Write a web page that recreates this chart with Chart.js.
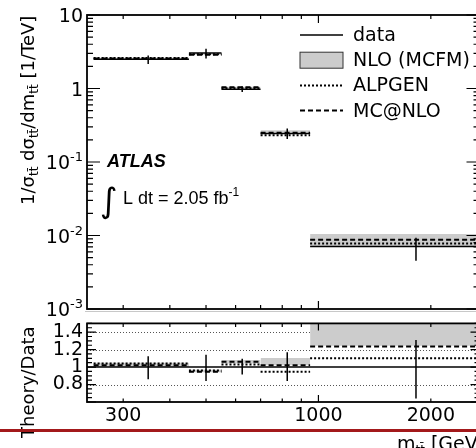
<!DOCTYPE html>
<html>
<head>
<meta charset="utf-8">
<script src="https://cdn.jsdelivr.net/npm/chart.js@4.4.0/dist/chart.umd.min.js"></script>
<style>
  html, body { margin: 0; padding: 0; background: #fff; overflow: hidden; }
  body { width: 476px; height: 448px; position: relative; }
  #mainBox { position: absolute; left: 0; top: 0; width: 490px; height: 330px; }
  #ratioBox { position: absolute; left: 0; top: 308px; width: 490px; height: 140px; }
  #redline { position: absolute; left: 0; top: 429px; width: 476px; height: 3px; background: #a3191b; }
  canvas { display: block; }
</style>
</head>
<body>
<div id="mainBox"><canvas id="mainChart"></canvas></div>
<div id="ratioBox"><canvas id="ratioChart"></canvas></div>
<div id="redline"></div>
<script>
// m_tt bins [GeV] and normalised cross section [1/TeV]
const binEdges = [250, 450, 550, 700, 950, 2700];
const binCentres = [350, 500, 625, 825, 1825];
const dataValues = [2.5, 3.05, 0.98, 0.245, 0.0071];
// data uncertainty as theory/data ratio ends
const dataErrLow = [0.86, 0.84, 0.915, 0.84, 0.64];
const dataErrHigh = [1.125, 1.14, 1.095, 1.17, 1.31];
// theory / data
const alpgenRatio = [1.04, 0.96, 1.03, 0.945, 1.10];
const mcatnloRatio = [1.02, 0.945, 1.06, 1.02, 1.235];
const nloRatioLow = [1.0, 0.94, 1.04, 1.02, 1.245];
const nloRatioHigh = [1.05, 0.97, 1.08, 1.105, 1.6];
// NLO band in the upper panel
const nloLow = [2.5, 2.87, 1.01, 0.25, 0.0071];
const nloHigh = [2.62, 2.96, 1.06, 0.27, 0.0105];

const xTickLabels = [300, 1000, 2000];
const xTickMarks = [300, 400, 500, 600, 700, 800, 900, 1000, 2000];
const xMajorMarks = [1000];
const ratioTickLabels = [0.8, 1, 1.2, 1.4];
const mainDecades = [10, 1, 0.1, 0.01, 0.001];

const alpgenDash = [2, 2];
const mcatnloDash = [5, 3];
const bandColour = '#cccccc';
const labelFont = '19px "DejaVu Sans"';

function binSteps(values) {
  const pts = [];
  values.forEach((v, i) => {
    pts.push({ x: binEdges[i], y: v }, { x: binEdges[i + 1], y: v });
    if (i < values.length - 1) pts.push({ x: binEdges[i + 1], y: null });
  });
  return pts;
}

function errorBars(lo, hi) {
  const pts = [];
  binCentres.forEach((c, i) => {
    pts.push({ x: c, y: lo[i] }, { x: c, y: hi[i] });
    if (i < binCentres.length - 1) pts.push({ x: c, y: null });
  });
  return pts;
}

function bandSets(lo, hi) {
  const sets = [];
  lo.forEach((v, i) => {
    sets.push({
      data: [{ x: binEdges[i], y: hi[i] }, { x: binEdges[i + 1], y: hi[i] }],
      fill: '+1', backgroundColor: bandColour, borderColor: 'transparent', borderWidth: 0, order: 5
    });
    sets.push({
      data: [{ x: binEdges[i], y: v }, { x: binEdges[i + 1], y: v }],
      fill: false, borderColor: 'transparent', borderWidth: 0, order: 5
    });
  });
  return sets;
}

function lineSet(data, dash, width, order) {
  return { data: data, borderColor: '#000', borderWidth: width, borderDash: dash, fill: false, order: order };
}

const times = (a, b) => a.map((v, i) => v * b[i]);

// ---- frame with inward ticks, ROOT style
function drawFrame(chart, yMarks, len) {
  const { ctx, chartArea: a, scales } = chart;
  ctx.save();
  ctx.strokeStyle = '#000';
  ctx.lineWidth = 1.2;
  ctx.beginPath();
  xTickMarks.forEach(v => {
    const px = scales.x.getPixelForValue(v);
    const l = xMajorMarks.includes(v) ? len.xMajor : len.xMinor;
    ctx.moveTo(px, a.bottom); ctx.lineTo(px, a.bottom - l);
    ctx.moveTo(px, a.top); ctx.lineTo(px, a.top + l);
  });
  yMarks.forEach(t => {
    const py = scales.y.getPixelForValue(t.v);
    const l = t.major ? len.yMajor : len.yMinor;
    ctx.moveTo(a.left, py); ctx.lineTo(a.left + l, py);
    ctx.moveTo(a.right, py); ctx.lineTo(a.right - l, py);
  });
  ctx.stroke();
  ctx.lineWidth = 1.8;
  ctx.strokeRect(a.left, a.top, a.right - a.left, a.bottom - a.top);
  ctx.restore();
}

function richText(ctx, parts, x, y, rotate) {
  ctx.save();
  ctx.translate(x, y);
  if (rotate) ctx.rotate(-Math.PI / 2);
  ctx.textAlign = 'left';
  ctx.textBaseline = 'alphabetic';
  ctx.fillStyle = '#000';
  let cx = 0;
  parts.forEach(p => {
    ctx.font = p.font;
    ctx.fillText(p.text, cx, p.dy || 0);
    cx += ctx.measureText(p.text).width;
  });
  ctx.restore();
}

const mainYMarks = [];
for (let k = -3; k <= 0; k++) {
  for (let m = 1; m <= 9; m++) mainYMarks.push({ v: m * Math.pow(10, k), major: m === 1 });
}
mainYMarks.push({ v: 10, major: true });

const ratioYMarks = [];
for (let i = 12; i <= 30; i++) ratioYMarks.push({ v: i * 0.05, major: i % 4 === 0 });

const legendItems = [
  { label: 'data', kind: 'line', dash: [] },
  { label: 'NLO (MCFM)', kind: 'box' },
  { label: 'ALPGEN', kind: 'line', dash: alpgenDash },
  { label: 'MC@NLO', kind: 'line', dash: mcatnloDash }
];

const sub = '12px "DejaVu Sans"';
const ttbar = 'tt\u0304';

const mainDecor = {
  id: 'mainDecor',
  afterDatasetsDraw(chart) {
    drawFrame(chart, mainYMarks, { xMajor: 8, xMinor: 4, yMajor: 13, yMinor: 6 });
  },
  afterDraw(chart) {
    const { ctx, chartArea: a, scales } = chart;
    ctx.save();
    ctx.fillStyle = '#000';
    // y tick labels with exponents
    mainDecades.forEach(d => {
      const py = scales.y.getPixelForValue(d);
      const right = a.left - 4;
      if (d >= 1) {
        ctx.font = labelFont;
        ctx.textAlign = 'right';
        ctx.textBaseline = 'alphabetic';
        ctx.fillText(String(d), right, py + 7);
      } else {
        const exp = String(Math.round(Math.log10(d)));
        ctx.font = '13px "DejaVu Sans"';
        const ew = ctx.measureText(exp).width;
        ctx.font = labelFont;
        const bw = ctx.measureText('10').width;
        richText(ctx, [
          { text: '10', font: labelFont },
          { text: exp, font: '13px "DejaVu Sans"', dy: -8 }
        ], right - ew - bw, py + 7, false);
      }
    });
    // y title
    const f = '18px "DejaVu Sans"';
    richText(ctx, [
      { text: '1/\u03c3', font: f }, { text: ttbar, font: sub, dy: 4 },
      { text: ' d\u03c3', font: f }, { text: ttbar, font: sub, dy: 4 },
      { text: '/dm', font: f }, { text: ttbar, font: sub, dy: 4 },
      { text: ' [1/TeV]', font: f }
    ], 34, 205, true);

    // legend
    legendItems.forEach((it, i) => {
      const y = 35 + i * 25.2;
      ctx.save();
      if (it.kind === 'box') {
        ctx.fillStyle = bandColour;
        ctx.fillRect(300, y - 8, 43, 16);
        ctx.strokeStyle = '#333';
        ctx.lineWidth = 1;
        ctx.strokeRect(300, y - 8, 43, 16);
      } else {
        ctx.strokeStyle = '#000';
        ctx.lineWidth = it.dash.length ? 2 : 1.5;
        ctx.setLineDash(it.dash);
        ctx.beginPath();
        ctx.moveTo(300, y); ctx.lineTo(343, y);
        ctx.stroke();
      }
      ctx.restore();
      ctx.font = labelFont;
      ctx.textAlign = 'left';
      ctx.textBaseline = 'middle';
      ctx.fillText(it.label, 353, y + 1);
    });

    // ATLAS label and luminosity
    ctx.font = 'italic bold 18px "Liberation Sans"';
    ctx.textAlign = 'left';
    ctx.textBaseline = 'alphabetic';
    ctx.fillText('ATLAS', 107, 167);
    ctx.font = '34px "DejaVu Sans"';
    ctx.fillText('\u222b', 100, 212);
    richText(ctx, [
      { text: 'L dt = 2.05 fb', font: '18px "Liberation Sans"' },
      { text: '-1', font: '12px "Liberation Sans"', dy: -8 }
    ], 123, 204, false);
    ctx.restore();
  }
};

const ratioDecor = {
  id: 'ratioDecor',
  beforeDatasetsDraw(chart) {
    const { ctx, chartArea: a, scales } = chart;
    ctx.save();
    ctx.strokeStyle = '#555';
    ctx.lineWidth = 1;
    ctx.setLineDash([1, 2]);
    ctx.beginPath();
    [0.8, 1.2, 1.4].forEach(v => {
      const py = Math.round(scales.y.getPixelForValue(v)) + 0.5;
      ctx.moveTo(a.left, py); ctx.lineTo(a.right, py);
    });
    ctx.stroke();
    ctx.restore();
  },
  afterDatasetsDraw(chart) {
    drawFrame(chart, ratioYMarks, { xMajor: 7, xMinor: 3.5, yMajor: 9, yMinor: 5 });
  },
  afterDraw(chart) {
    const { ctx } = chart;
    ctx.save();
    // thin separator of the lower pad
    ctx.strokeStyle = '#c8c8c8';
    ctx.lineWidth = 1;
    ctx.beginPath();
    ctx.moveTo(85, 3.5); ctx.lineTo(490, 3.5);
    ctx.stroke();
    richText(ctx, [{ text: 'Theory/Data', font: '18px "DejaVu Sans"' }], 33.5, 130, true);
    richText(ctx, [
      { text: 'm', font: labelFont }, { text: ttbar, font: sub, dy: 4 },
      { text: ' [GeV]', font: labelFont }
    ], 397, 141.5, false);
    ctx.restore();
  }
};

const commonOpts = {
  responsive: true,
  maintainAspectRatio: false,
  animation: false,
  plugins: { legend: { display: false }, tooltip: { enabled: false } },
  elements: { point: { radius: 0, hoverRadius: 0 }, line: { tension: 0 } }
};

// ---- upper panel
const mainSets = [
  ...bandSets(nloLow, nloHigh),
  lineSet(binSteps(times(dataValues, alpgenRatio)), alpgenDash, 2, 3),
  lineSet(binSteps(times(dataValues, mcatnloRatio)), mcatnloDash, 2, 3),
  lineSet(binSteps(dataValues), [], 1.5, 1),
  lineSet(errorBars(times(dataValues, dataErrLow), times(dataValues, dataErrHigh)), [], 1.5, 1)
];

new Chart('mainChart', {
  type: 'line',
  data: { datasets: mainSets },
  options: {
    ...commonOpts,
    layout: { padding: { top: 15, right: 10.5, left: 0, bottom: 0 } },
    scales: {
      x: {
        type: 'logarithmic', min: 240, max: 2700,
        ticks: { display: false }, grid: { display: false }, border: { display: false },
        afterFit: s => { s.height = 21; }
      },
      y: {
        type: 'logarithmic', min: 0.001, max: 10,
        ticks: { display: false }, grid: { display: false }, border: { display: false },
        afterFit: s => { s.width = 87; }
      }
    }
  },
  plugins: [mainDecor]
});

// ---- ratio panel
const ones = dataValues.map(() => 1);
const ratioSets = [
  ...bandSets(nloRatioLow, nloRatioHigh),
  lineSet(binSteps(alpgenRatio), alpgenDash, 2, 3),
  lineSet(binSteps(mcatnloRatio), mcatnloDash, 2, 3),
  lineSet([{ x: 240, y: 1 }, { x: 2700, y: 1 }], [], 1.5, 1),
  lineSet(errorBars(dataErrLow, dataErrHigh), [], 1.5, 1)
];

new Chart('ratioChart', {
  type: 'line',
  data: { datasets: ratioSets },
  options: {
    ...commonOpts,
    layout: { padding: { top: 13, right: 10.5, left: 0, bottom: 0 } },
    scales: {
      x: {
        type: 'logarithmic', min: 240, max: 2700,
        afterBuildTicks: s => { s.ticks = xTickLabels.map(v => ({ value: v })); },
        ticks: {
          autoSkip: false, maxRotation: 0, padding: 3, color: '#000',
          font: { family: 'DejaVu Sans', size: 19 },
          callback: v => String(v)
        },
        grid: { display: false, drawTicks: false }, border: { display: false },
        afterFit: s => { s.height = 46; }
      },
      y: {
        min: 0.6, max: 1.5,
        afterBuildTicks: s => { s.ticks = ratioTickLabels.map(v => ({ value: v })); },
        ticks: {
          padding: 4, color: '#000',
          font: { family: 'DejaVu Sans', size: 19 },
          callback: v => String(v)
        },
        grid: { display: false, drawTicks: false }, border: { display: false },
        afterFit: s => { s.width = 87; }
      }
    }
  },
  plugins: [ratioDecor]
});
</script>
</body>
</html>
